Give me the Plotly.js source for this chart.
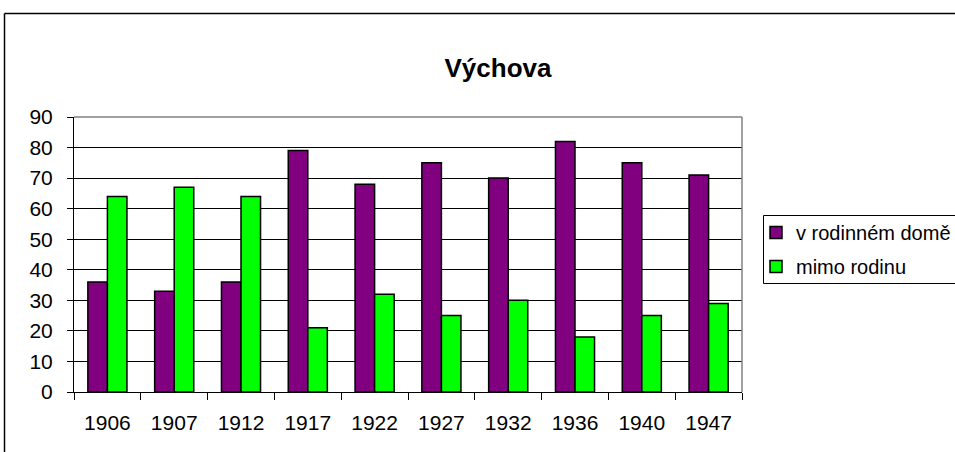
<!DOCTYPE html>
<html>
<head>
<meta charset="utf-8">
<script src="https://cdn.plot.ly/plotly-3.0.1.min.js"></script>
<style>html,body{margin:0;padding:0;background:#fff;}#chart{width:955px;height:452px;}</style>
</head>
<body>
<div id="chart"></div>
<script>
const categories = ["1906","1907","1912","1917","1922","1927","1932","1936","1940","1947"];
const vRodinnemDome = [36,33,36,79,68,75,70,82,75,71];
const mimoRodinu = [64,67,64,21,32,25,30,18,25,29];
const seriesNames = ["v rodinném domě","mimo rodinu"];
const yTicks = [0,10,20,30,40,50,60,70,80,90];

const FONT = "Liberation Sans, Arial, sans-serif";
const traces = [
  {type:"bar", x:categories, y:vRodinnemDome, name:seriesNames[0], legendgroup:"a",
   marker:{color:"#800080", line:{color:"#000", width:1.5}}},
  {type:"bar", x:categories, y:mimoRodinu, name:seriesNames[1], legendgroup:"b",
   marker:{color:"#00FF00", line:{color:"#000", width:1.5}}}
];
const L = 74, R = 742, T = 117, B = 392;
const pw = R - L, ph = B - T;
const px = v => (v - L) / pw;
const py = v => (B - v) / ph;
const layout = {
  width:955, height:452,
  margin:{l:L, r:955-R, t:T, b:452-B, pad:0, autoexpand:false},
  paper_bgcolor:"#fff", plot_bgcolor:"#fff",
  font:{family:FONT, size:21, color:"#000"},
  title:{text:"<b>Výchova</b>", font:{family:FONT, size:26, color:"#000"},
         x:498/955, xanchor:"center", y:1-68/452, yanchor:"middle"},
  barmode:"group", bargap:0.415, bargroupgap:0,
  showlegend:true,
  legend:{x:px(756), xanchor:"left", y:py(213), yanchor:"top",
          borderwidth:0, bgcolor:"rgba(0,0,0,0)",
          font:{family:FONT, size:20, color:"#000"},
          traceorder:"grouped", tracegroupgap:5, itemclick:false},
  xaxis:{type:"category", showgrid:false, showline:true, linecolor:"#000", linewidth:1,
         ticks:"outside", tickson:"boundaries", ticklen:7, tickcolor:"#000",
         tickfont:{family:FONT, size:21, color:"#000"}, ticklabelstandoff:12, fixedrange:true},
  yaxis:{range:[0,90], tickvals:yTicks, showgrid:true, gridcolor:"#000", gridwidth:1,
         showline:true, linecolor:"#000", linewidth:1, zeroline:false,
         ticks:"outside", ticklen:6, tickcolor:"#000",
         tickfont:{family:FONT, size:21, color:"#000"}, ticklabelstandoff:10, fixedrange:true},
  shapes:[
    {type:"line", xref:"paper", yref:"paper", x0:0, x1:1, y0:1, y1:1, line:{color:"#808080", width:1.5}, layer:"above"},
    {type:"line", xref:"paper", yref:"paper", x0:1, x1:1, y0:0, y1:1, line:{color:"#808080", width:1.5}, layer:"above"},
    {type:"line", xref:"paper", yref:"paper", x0:px(4.5), x1:px(1000), y0:py(13.5), y1:py(13.5), line:{color:"#000", width:1.5}},
    {type:"line", xref:"paper", yref:"paper", x0:px(4.5), x1:px(4.5), y0:py(13.5), y1:py(500), line:{color:"#000", width:1.5}},
    {type:"rect", xref:"paper", yref:"paper", x0:px(763.5), x1:px(1000), y0:py(215.5), y1:py(283.5), line:{color:"#000", width:1}, fillcolor:"rgba(0,0,0,0)", layer:"below"}
  ]
};
Plotly.newPlot("chart", traces, layout, {displayModeBar:false, staticPlot:true});
</script>
</body>
</html>
